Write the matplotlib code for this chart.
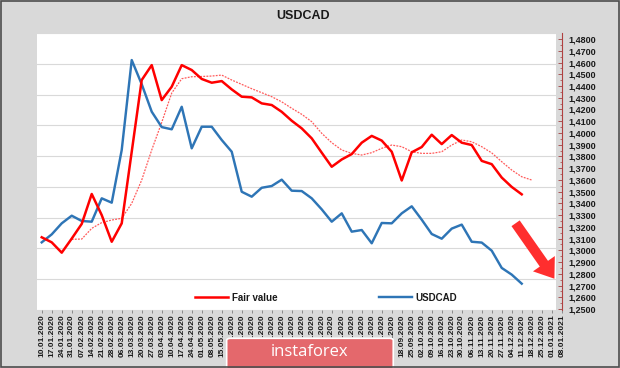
import numpy as np
import matplotlib
matplotlib.use("Agg")
import matplotlib.pyplot as plt
from matplotlib.patches import Rectangle, FancyBboxPatch
from matplotlib.ticker import FuncFormatter, MultipleLocator

# weekly dates on the category axis
week_labels = [
    "10.01.2020", "17.01.2020", "24.01.2020", "31.01.2020", "07.02.2020", "14.02.2020",
    "21.02.2020", "28.02.2020", "06.03.2020", "13.03.2020", "20.03.2020", "27.03.2020",
    "03.04.2020", "10.04.2020", "17.04.2020", "24.04.2020", "01.05.2020", "08.05.2020",
    "15.05.2020", "22.05.2020", "29.05.2020", "05.06.2020", "12.06.2020", "19.06.2020",
    "26.06.2020", "03.07.2020", "10.07.2020", "17.07.2020", "24.07.2020", "31.07.2020",
    "07.08.2020", "14.08.2020", "21.08.2020", "28.08.2020", "04.09.2020", "11.09.2020",
    "18.09.2020", "25.09.2020", "02.10.2020", "09.10.2020", "16.10.2020", "23.10.2020",
    "30.10.2020", "06.11.2020", "13.11.2020", "20.11.2020", "27.11.2020", "04.12.2020",
    "11.12.2020", "18.12.2020", "25.12.2020", "01.01.2021", "08.01.2021",
]

fair_value = [
    1.3111, 1.3068, 1.2980, 1.3100, 1.3225, 1.3480, 1.3300, 1.3073, 1.3230, 1.3840,
    1.4451, 1.4578, 1.4280, 1.4394, 1.4578, 1.4536, 1.4460, 1.4428, 1.4442, 1.4371,
    1.4309, 1.4303, 1.4252, 1.4238, 1.4180, 1.4104, 1.4039, 1.3954, 1.3832, 1.3712,
    1.3774, 1.3820, 1.3917, 1.3975, 1.3935, 1.3840, 1.3595, 1.3835, 1.3880, 1.3985,
    1.3905, 1.3982, 1.3917, 1.3897, 1.3762, 1.3734, 1.3620, 1.3540, 1.3477,
]

usdcad = [
    1.3068, 1.3136, 1.3230, 1.3295, 1.3250, 1.3244, 1.3443, 1.3406, 1.3855, 1.4621,
    1.4415, 1.4181, 1.4050, 1.4031, 1.4223, 1.3869, 1.4053, 1.4053, 1.3940, 1.3840,
    1.3499, 1.3457, 1.3533, 1.3548, 1.3602, 1.3508, 1.3505, 1.3443, 1.3349, 1.3244,
    1.3315, 1.3159, 1.3173, 1.3060, 1.3233, 1.3230, 1.3315, 1.3375, 1.3261, 1.3139,
    1.3099, 1.3185, 1.3219, 1.3073, 1.3066, 1.2997, 1.2850, 1.2793, 1.2716,
]

# thin dotted line (smoothed fair value)
fair_value_avg = [
    np.nan, np.nan, np.nan, 1.3094, 1.3096, 1.3187, 1.3236, 1.3258, 1.3273, 1.3400,
    1.3599, 1.3855, 1.4090, 1.4340, 1.4462, 1.4479, 1.4481, 1.4485, 1.4493, 1.4451,
    1.4414, 1.4377, 1.4343, 1.4309, 1.4265, 1.4210, 1.4159, 1.4096, 1.3997, 1.3917,
    1.3855, 1.3826, 1.3812, 1.3832, 1.3869, 1.3897, 1.3883, 1.3840, 1.3826, 1.3826,
    1.3840, 1.3897, 1.3940, 1.3925, 1.3883, 1.3830, 1.3755, 1.3684, 1.3627, 1.3599,
]

BG = "#d9d9d9"
TXT = "#1a1a1a"
plt.rcParams["font.family"] = ["Liberation Sans", "DejaVu Sans"]

fig = plt.figure(figsize=(6.2, 3.68), dpi=100, facecolor=BG)

# white plot area with the gridlines of the (hidden) primary axis
ax_grid = fig.add_axes([0.0602, 0.1587, 0.8366, 0.7508], facecolor="white")
ax_grid.set_ylim(0, 9)
ax_grid.set_yticks(range(10))
ax_grid.grid(axis="y", color="#d9d9d9", linewidth=0.8)
ax_grid.tick_params(left=False, bottom=False, labelleft=False, labelbottom=False)
for s in ax_grid.spines.values():
    s.set_visible(False)

ax = fig.add_axes([0.0602, 0.1587, 0.8458, 0.7508], facecolor="none")
x_fv = np.arange(len(fair_value))
x_avg = np.arange(len(fair_value_avg))

ax.plot(x_avg, fair_value_avg, color="#ff5a5a", linewidth=0.9, linestyle=(0, (1.5, 1)))
ax.plot(x_fv, usdcad, color="#2e75b6", linewidth=1.75, label="USDCAD",
        solid_joinstyle="round")
ax.plot(x_fv, fair_value, color="#ff0000", linewidth=1.8, label="Fair value",
        solid_joinstyle="round")

ax.set_xlim(-0.44, 52)
ax.set_ylim(1.2495, 1.4849)

ax.set_xticks(range(len(week_labels)))
ax.set_xticklabels(week_labels, rotation=90, fontsize=6, fontweight="bold", color=TXT)
ax.tick_params(axis="x", length=2, width=0.6, color="#7f7f7f", pad=1.5)

ax.yaxis.tick_right()
ax.set_yticks(np.arange(1.25, 1.4801, 0.01))
ax.yaxis.set_minor_locator(MultipleLocator(0.005))
ax.yaxis.set_major_formatter(FuncFormatter(lambda v, p: f"{v:.4f}".replace(".", ",")))
ax.tick_params(axis="y", which="major", direction="in", length=3, width=0.6,
               color="#a04040", pad=5, labelsize=6.5, labelcolor=TXT)
ax.tick_params(axis="y", which="minor", direction="in", length=1.5, width=0.5,
               color="#a04040")
for lbl in ax.get_yticklabels():
    lbl.set_fontweight("bold")

for name in ("left", "top", "bottom"):
    ax.spines[name].set_visible(False)
ax.spines["right"].set_color("#b04040")
ax.spines["right"].set_linewidth(0.8)

handles, labels = ax.get_legend_handles_labels()
leg = ax.legend(handles[::-1], labels[::-1], loc="lower left", bbox_to_anchor=(0.301, 0.025),
                ncol=2, frameon=False, handlelength=3.4, handletextpad=0.35,
                columnspacing=10.5, borderpad=0, borderaxespad=0,
                prop={"size": 7, "weight": "bold"})
for t in leg.get_texts():
    t.set_color(TXT)

fig.text(0.489, 1 - 16 / 368, "USDCAD", ha="center", va="center",
         fontsize=9, fontweight="bold", color=TXT)

# red arrow pointing down-right
ax.annotate("", xy=(556, 368 - 281), xytext=(514, 368 - 221),
            xycoords="figure pixels", textcoords="figure pixels",
            annotation_clip=False,
            arrowprops=dict(arrowstyle="simple,head_length=1.1,head_width=1.6,tail_width=0.6",
                            mutation_scale=12, color="#ff2e2e", linewidth=0))

# instaforex badge
badge = FancyBboxPatch((0.3656, -0.02), 0.2687, 0.1007,
                       boxstyle="round,pad=0,rounding_size=0.006",
                       transform=fig.transFigure, facecolor="#e4686c",
                       edgecolor="white", linewidth=1.2, zorder=5)
fig.patches.append(badge)
fig.text(0.5, 1 - 352 / 368, "instaforex", ha="center", va="center",
         fontsize=12, color="white", family=["Open Sans", "DejaVu Sans"], zorder=6)

# outer frame
fig.patches.append(Rectangle((0.001, 0.002), 0.997, 0.996, transform=fig.transFigure,
                             fill=False, edgecolor="#4d4d4d", linewidth=1.2, zorder=7))

fig.savefig("out.png", dpi=100, facecolor=BG)
